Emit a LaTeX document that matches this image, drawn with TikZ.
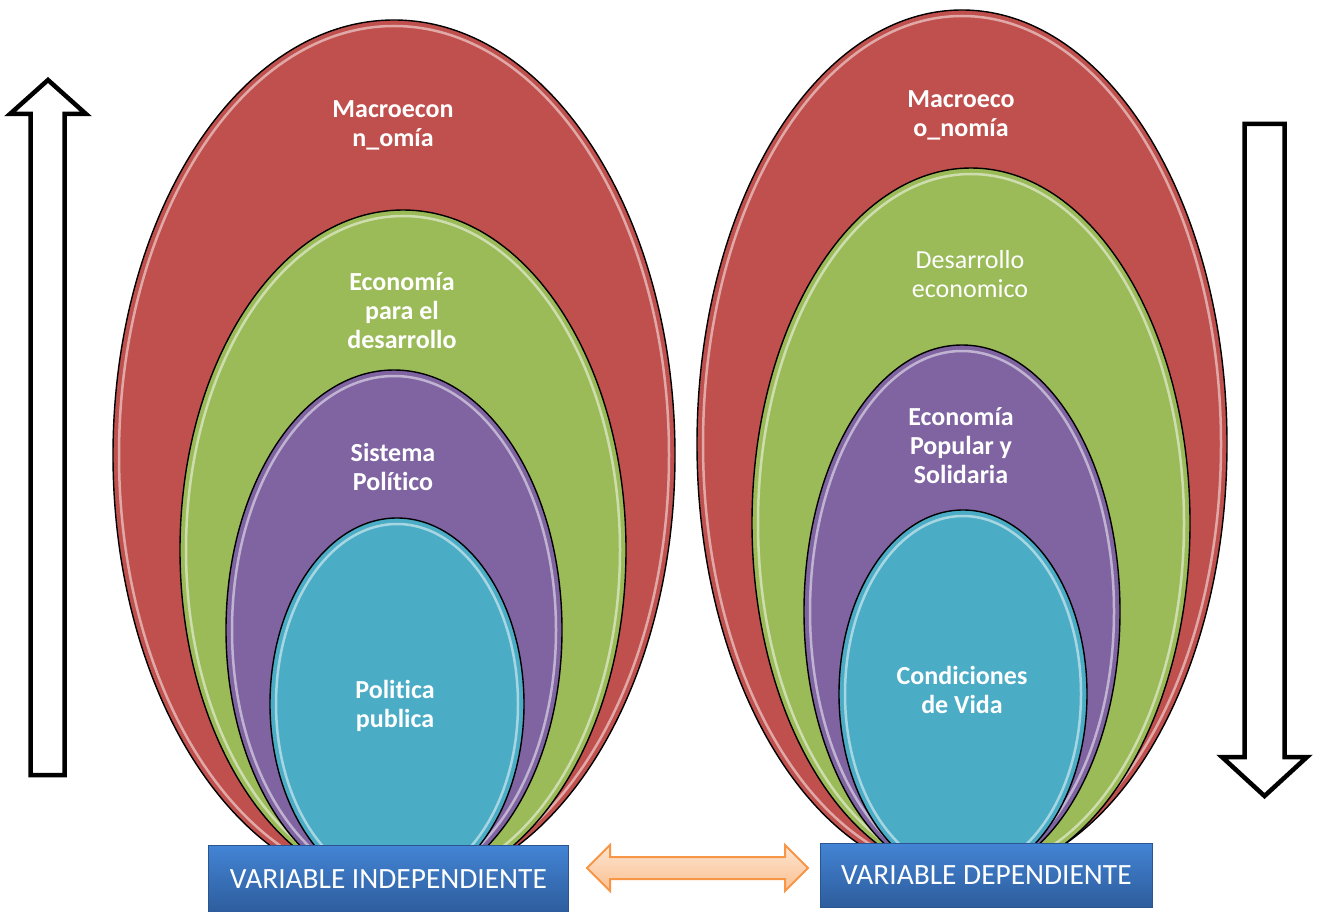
\documentclass[tikz,border=0pt]{standalone}
\usepackage{fontspec}
\setmainfont{Carlito}[Ligatures=NoCommon]
\usetikzlibrary{shapes.geometric,shapes.arrows,calc}
\definecolor{cR}{HTML}{C0504D}
\definecolor{cG}{HTML}{9BBB59}
\definecolor{cP}{HTML}{8064A2}
\definecolor{cB}{HTML}{4BACC6}
\definecolor{bxTop}{HTML}{4384D4}
\definecolor{bxBot}{HTML}{2D5C9C}
\definecolor{bxLine}{HTML}{2A5590}
\definecolor{arTop}{HTML}{FDE5D1}
\definecolor{arBot}{HTML}{FAC090}
\definecolor{arLine}{HTML}{F79646}
\tikzset{
 eggshape/.style={ellipse, draw=black, line width=1.4pt, inner sep=0pt, outer sep=0pt},
 rim/.style={line width=2.5pt, draw=#1!40!white, opacity=0.85},
 lbl/.style={text=white, align=center, font=\fontsize{26}{29}\selectfont\bfseries},
 lblreg/.style={text=white, align=center, font=\fontsize{26}{29}\selectfont},
 vbox/.style={rectangle, top color=bxTop, bottom color=bxBot, draw=bxLine, line width=0.8pt, text=white, font=\fontsize{29.4}{32}\selectfont, inner sep=0pt},
 darrow/.style={double arrow, double arrow head extend=12pt, double arrow tip angle=90, minimum height=221pt, inner sep=10pt, top color=arTop, bottom color=arBot, draw=arLine, line width=2pt},
 bigarrow/.style={draw=black, line width=4.5pt, fill=white, line join=miter, miter limit=10},
}
\newcommand\eggnode[6]{%
 \node[eggshape, fill=#6, minimum width={2*#4pt}, minimum height={2*#5pt}] (#1) at (#2,#3) {};
 \draw[rim=#6] (#1.center) ellipse [x radius={#4pt-6pt}, y radius={#5pt-6pt}];
}
\begin{document}
\begin{tikzpicture}[x=1pt,y=-1pt]
\useasboundingbox (0,0) rectangle (1320,912);
\fill[white] (0,0) rectangle (1320,912);
% left group
\eggnode{lR}{394}{455}{281}{435}{cR}
\eggnode{lG}{403}{550}{223}{340}{cG}
\eggnode{lP}{394}{630}{168}{260}{cP}
\eggnode{lB}{397}{704}{127}{186}{cB}
% right group
\eggnode{rR}{962}{444}{265}{434}{cR}
\eggnode{rG}{971}{523}{219}{355}{cG}
\eggnode{rP}{962}{611.5}{158}{266.5}{cP}
\eggnode{rB}{963}{694}{124}{184}{cB}
% labels
\node[lbl] (tL1) at (393,125) {Macroecon\\n\_omía};
\node[lbl] (tL2) at (402,311) {Economía\\para el\\desarrollo};
\node[lbl] (tL3) at (393,467) {Sistema\\Político};
\node[lbl] (tL4) at (395,706) {Politica\\publica};
\node[lbl] (tR1) at (961,115) {Macroeco\\o\_nomía};
\node[lblreg] (tR2) at (970,274) {Desarrollo\\economico};
\node[lbl] (tR3) at (961,446) {Economía\\Popular y\\Solidaria};
\node[lbl] (tR4) at (962,690) {Condiciones\\de Vida};
% boxes
\node[vbox, minimum width=360pt, minimum height=68pt, anchor=north west] (bL) at (208,845) {VARIABLE INDEPENDIENTE};
\node[vbox, minimum width=332pt, minimum height=64pt, anchor=north west] (bR) at (820,843) {VARIABLE DEPENDIENTE};
% double arrow
\node[darrow] (dA) at (697.5,868) {};
% big arrows
\draw[bigarrow] (30.5,775) -- (30.5,114) -- (10,114) -- (48,80) -- (86,114) -- (64.5,114) -- (64.5,775) -- cycle;
\draw[bigarrow] (1244.5,124) -- (1244.5,757) -- (1222,757) -- (1264.5,796) -- (1307,757) -- (1284.5,757) -- (1284.5,124) -- cycle;
\end{tikzpicture}
\end{document}
